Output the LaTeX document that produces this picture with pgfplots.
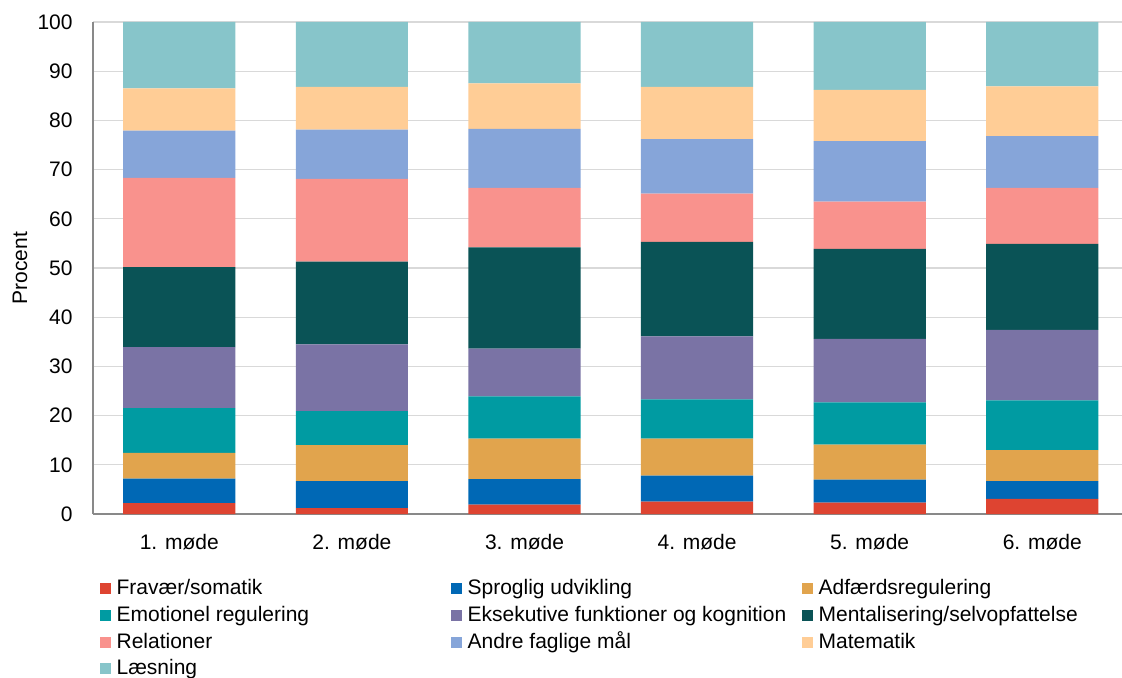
\documentclass[border=0pt]{standalone}
\usepackage{fontspec}
\setmainfont{Liberation Sans}
\usepackage{pgfplots}
\usepackage{pgfplotstable}
\pgfplotsset{compat=1.18}

\definecolor{cF}{HTML}{DE4431}
\definecolor{cS}{HTML}{0068B5}
\definecolor{cA}{HTML}{E1A44D}
\definecolor{cE}{HTML}{009BA2}
\definecolor{cK}{HTML}{7A73A5}
\definecolor{cM}{HTML}{0A5356}
\definecolor{cR}{HTML}{F9928D}
\definecolor{cD}{HTML}{86A5D9}
\definecolor{cMa}{HTML}{FFCD96}
\definecolor{cL}{HTML}{87C5CA}
\definecolor{axgray}{HTML}{898989}
\definecolor{gridgray}{HTML}{D9D9D9}

\pgfplotstableread{
x F S A E K M R D Ma L
0 2.2 5.0 5.2 9.1 12.4 16.3 18.1 9.6 8.6 13.5
1 1.2 5.5 7.3 6.9 13.6 16.8 16.8 10.0 8.7 13.2
2 1.9 5.2 8.2 8.6 9.7 20.6 12.1 12.0 9.2 12.5
3 2.5 5.3 7.5 8.0 12.8 19.2 9.8 11.1 10.6 13.2
4 2.3 4.7 7.1 8.6 12.9 18.3 9.6 12.3 10.4 13.8
5 3.1 3.6 6.3 10.1 14.3 17.5 11.4 10.5 10.1 13.1
}\datatable

\newcommand{\lw}[1]{\makebox[167.2pt][l]{#1}}

\begin{document}
\fontsize{10.5}{12.6}\selectfont
\begin{tikzpicture}
\path[use as bounding box] (0,0) rectangle (561pt,-339pt);
\begin{axis}[
  at={(46.5pt,-257pt)}, anchor=south west,
  scale only axis,
  width=514.5pt, height=246pt,
  ybar stacked,
  bar width=0.65,
  xmin=-0.5, xmax=5.462,
  ymin=0, ymax=100,
  ytick={0,10,...,100},
  xtick={0,1,2,3,4,5},
  xticklabels={1. møde,2. møde,3. møde,4. møde,5. møde,6. møde},
  axis x line*=bottom,
  axis y line*=left,
  axis line style={draw=axgray, line width=0.75pt, -},
  major tick length=0pt,
  ymajorgrids,
  grid style={draw=gridgray, line width=0.6pt},
  /pgf/number format/assume math mode=true,
  tick label style={font=\fontsize{10.5}{12.6}\selectfont, text=black},
  yticklabel style={anchor=east, inner sep=0pt, xshift=-10pt},
  xticklabel style={anchor=base, inner sep=0pt, yshift=-17.5pt},
  ylabel={Procent},
  ylabel style={at={(axis description cs:-0.071,0.5)}, anchor=center, font=\fontsize{10.5}{12.6}\selectfont},
  legend columns=3,
  legend cell align=left,
  legend image code/.code={\fill[#1] (0pt,-2.75pt) rectangle (5.5pt,2.75pt);},
  legend style={
    at={(axis description cs:0.0068,-0.1315)}, anchor=north west,
    draw=none, fill=none, inner sep=0pt, outer sep=0pt,
    font=\fontsize{10.5}{12.6}\selectfont,
    row sep=3.35pt,
    nodes={inner sep=0pt, text height=8pt, text depth=2pt},
    /tikz/every odd column/.append style={column sep=2.8pt},
    /tikz/every even column/.append style={column sep=0pt},
  },
  every axis plot/.append style={draw=none},
]
\addplot[fill=cF] table[x=x,y=F]{\datatable};
\addlegendentry{\lw{Fravær/somatik}}
\addplot[fill=cS] table[x=x,y=S]{\datatable};
\addlegendentry{\lw{Sproglig udvikling}}
\addplot[fill=cA] table[x=x,y=A]{\datatable};
\addlegendentry{Adfærdsregulering}
\addplot[fill=cE] table[x=x,y=E]{\datatable};
\addlegendentry{\lw{Emotionel regulering}}
\addplot[fill=cK] table[x=x,y=K]{\datatable};
\addlegendentry{\lw{Eksekutive funktioner og kognition}}
\addplot[fill=cM] table[x=x,y=M]{\datatable};
\addlegendentry{Mentalisering/selvopfattelse}
\addplot[fill=cR] table[x=x,y=R]{\datatable};
\addlegendentry{\lw{Relationer}}
\addplot[fill=cD] table[x=x,y=D]{\datatable};
\addlegendentry{\lw{Andre faglige mål}}
\addplot[fill=cMa] table[x=x,y=Ma]{\datatable};
\addlegendentry{Matematik}
\addplot[fill=cL] table[x=x,y=L]{\datatable};
\addlegendentry{Læsning}
\end{axis}
\end{tikzpicture}
\end{document}
